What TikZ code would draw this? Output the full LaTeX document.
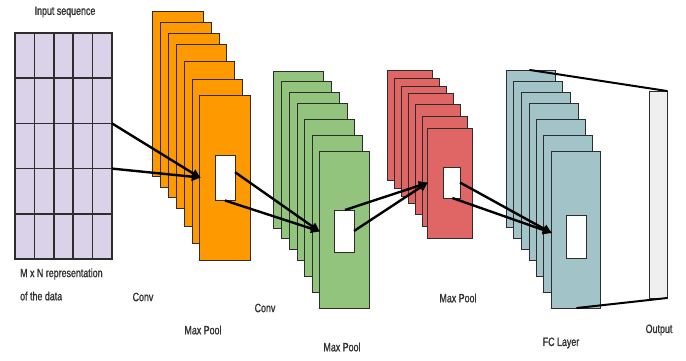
\documentclass[tikz,border=0pt]{standalone}
\usepackage{fontspec}
\newfontfamily\lblfont{Liberation Sans}[FakeStretch=0.74, FakeBold=1.3]
\usetikzlibrary{arrows.meta,calc}

\definecolor{gridfill}{RGB}{217,210,233}
\definecolor{convorange}{RGB}{255,153,0}
\definecolor{poolgreen}{RGB}{147,196,125}
\definecolor{poolred}{RGB}{224,102,102}
\definecolor{fcteal}{RGB}{162,196,201}
\definecolor{outgrey}{RGB}{239,239,239}
\definecolor{edge}{RGB}{45,45,45}

\tikzset{
  layer/.style={draw=edge, line width=0.9pt, inner sep=0pt, outer sep=0pt, anchor=north west},
  window/.style={draw=edge, fill=white, line width=0.9pt, inner sep=0pt, outer sep=0pt, anchor=north west},
  flow/.style={line width=2.4pt, -{Triangle[length=9pt,width=8.5pt]}, shorten >=-1pt},
  link/.style={line width=2pt, line cap=round},
  lbl/.style={font=\lblfont\fontsize{12}{14}\selectfont, text=black!80, inner sep=0pt},
}

\begin{document}
\begin{tikzpicture}[x=1pt, y=-1pt]
\useasboundingbox (0,0) rectangle (686,360);

% input matrix, 5 x 5 cells
\node[layer, fill=gridfill, line width=1.5pt, minimum width=97pt, minimum height=226pt] (grid) at (15,33) {};
\foreach \k in {1,...,4}{
  \draw[edge, line width=1.5pt] ($(grid.north west)!\k/5!(grid.north east)$) -- ($(grid.south west)!\k/5!(grid.south east)$);
  \draw[edge, line width=1.5pt] ($(grid.north west)!\k/5!(grid.south west)$) -- ($(grid.north east)!\k/5!(grid.south east)$);
}

% convolution feature maps
\foreach \i/\x/\y in {1/152.7/11.7, 2/160.7/22.7, 3/168.7/33, 4/176.3/44, 5/184.3/61.7, 6/192/79, 7/199.7/95.7}
  \node[layer, fill=convorange, minimum width=50.5pt, minimum height=164.5pt] (c\i) at (\x,\y) {};
\node[window, minimum width=20pt, minimum height=45pt] (cw) at (215,155.5) {};

% pooled maps
\foreach \i/\x/\y in {1/273/71, 2/281/81, 3/289/92, 4/297/103, 5/304/119, 6/312/135, 7/319/151}
  \node[layer, fill=poolgreen, minimum width=50pt, minimum height=157pt] (p\i) at (\x,\y) {};
\node[window, minimum width=20pt, minimum height=42pt] (pw) at (334,210) {};

% second pooling stage
\foreach \i/\x/\y in {1/387/70, 2/394/78, 3/401/86, 4/408/93, 5/415/104, 6/422/116, 7/427/128}
  \node[layer, fill=poolred, minimum width=45pt, minimum height=110pt] (r\i) at (\x,\y) {};
\node[window, minimum width=17pt, minimum height=31pt] (rw) at (443,167) {};

% fully connected layer
\foreach \i/\x/\y in {1/506/70, 2/513/81, 3/521/92, 4/529/103, 5/536/119, 6/543/135, 7/551/151}
  \node[layer, fill=fcteal, minimum width=49pt, minimum height=157pt] (f\i) at (\x,\y) {};
\node[window, minimum width=20pt, minimum height=43pt] (fw) at (566,215) {};

% output vector
\node[layer, fill=outgrey, minimum width=18pt, minimum height=207pt] (out) at (649,91) {};

% connector end points
\coordinate (g1) at ($(grid.north east)!2/5!(grid.south east)$);
\coordinate (g2) at ($(grid.north east)!3/5!(grid.south east)$);
\coordinate (cin) at ($(c7.west)+(0,-0.5)$);
\coordinate (cw1) at ($(cw.north east)!0.37!(cw.south east)$);
\coordinate (cw2) at ($(cw.south west)!0.5!(cw.south east)$);
\coordinate (pin) at ($(p7.north west)!0.51!(p7.south west)$);
\coordinate (pw1) at ($(pw.north west)!0.55!(pw.north east)$);
\coordinate (pw2) at ($(pw.north east)!0.5!(pw.south east)$);
\coordinate (rin) at ($(r7.north west)!0.5!(r7.south west)$);
\coordinate (rw1) at ($(rw.north east)!0.5!(rw.south east)$);
\coordinate (rw2) at ($(rw.south west)!0.55!(rw.south east)$);
\coordinate (fin) at ($(f7.north west)!0.52!(f7.south west)$);
\coordinate (ft) at ($(f1.north west)!0.49!(f1.north east)$);
\coordinate (fb) at ($(f7.south west)!0.53!(f7.south east)$);

% data flow
\draw[flow] (g1) -- (cin);
\draw[flow] (g2) -- (cin);
\draw[flow] (cw1) -- (pin);
\draw[flow] (cw2) -- (pin);
\draw[flow] (pw1) -- (rin);
\draw[flow] (pw2) -- (rin);
\draw[flow] (rw1) -- (fin);
\draw[flow] (rw2) -- (fin);
\draw[link] (ft) -- (out.north east);
\draw[link] (fb) -- (out.south east);

% captions
\node[lbl] (tin) at (65,12) {Input sequence};
\node[lbl, anchor=west] (tmn) at (20,274) {M x N representation};
\node[lbl, anchor=west] (tdat) at (20,296) {of the data};
\node[lbl] (tconv1) at (143,297) {Conv};
\node[lbl] (tpool1) at (203,330) {Max Pool};
\node[lbl] (tconv2) at (265,308) {Conv};
\node[lbl] (tpool2) at (342,347) {Max Pool};
\node[lbl] (tpool3) at (458,298) {Max Pool};
\node[lbl] (tfc) at (561,343) {FC Layer};
\node[lbl] (tout) at (659,330) {Output};
\end{tikzpicture}
\end{document}
